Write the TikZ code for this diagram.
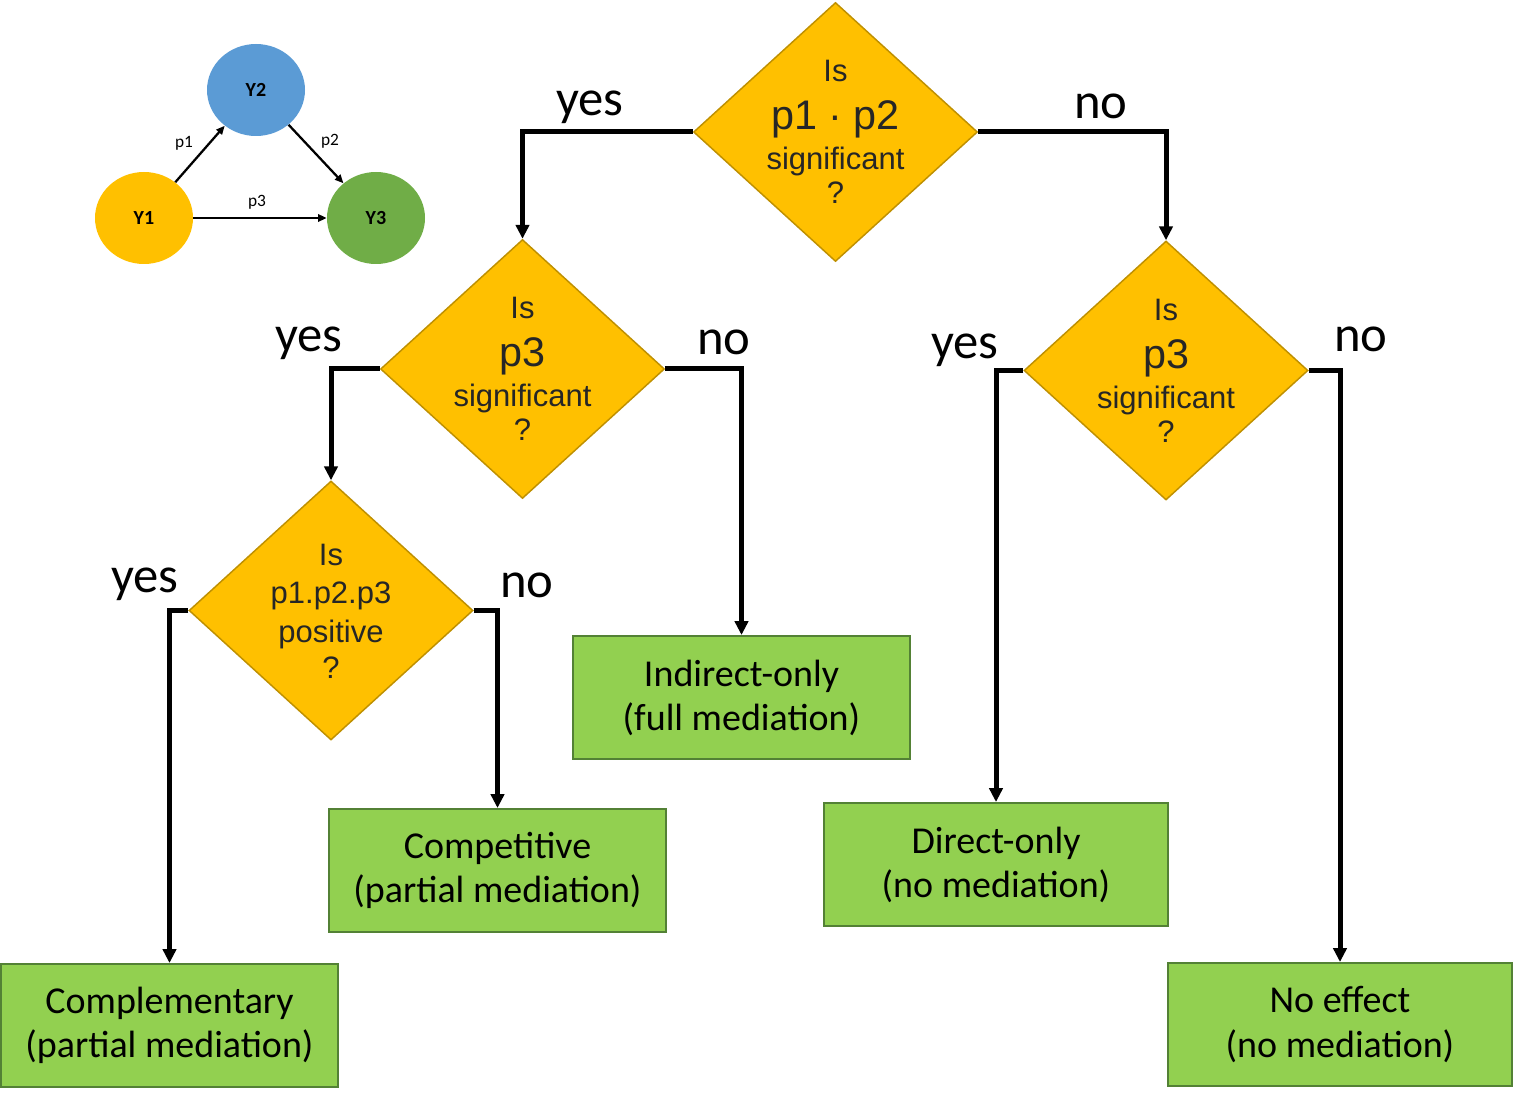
\documentclass[tikz,border=0pt]{standalone}
\usepackage{fontspec}
\setmainfont{Carlito}
\newfontfamily\arialf{Liberation Sans}
\usetikzlibrary{shapes.geometric,arrows.meta}
\definecolor{dfill}{HTML}{FFC000}
\definecolor{ddraw}{HTML}{BF9000}
\definecolor{bfill}{HTML}{92D050}
\definecolor{bdraw}{HTML}{538135}
\definecolor{dtext}{HTML}{262626}
\definecolor{ycol}{HTML}{FFC000}
\definecolor{bcol}{HTML}{5B9BD5}
\definecolor{gcol}{HTML}{70AD47}
\begin{document}
\begin{tikzpicture}[x=0.75pt,y=-0.75pt,
  decision/.style={diamond,draw=ddraw,fill=dfill,line width=1.1pt,inner sep=0pt,
    minimum width={284*0.75pt},minimum height={259*0.75pt}},
  dtxt/.style={align=center,text=dtext,inner sep=0pt,font=\arialf\fontsize{23.25}{27}\selectfont},
  outcome/.style={rectangle,draw=bdraw,fill=bfill,line width=1.5pt,
    minimum height={123*0.75pt},align=center,font=\fontsize{28.5}{33}\selectfont},
  flow/.style={line width=3.75pt,-{Triangle[length=10.5pt,width=10pt]}},
  lbl/.style={font=\fontsize{38}{40}\selectfont,inner sep=0pt},
  circ/.style={ellipse,minimum width={98*0.75pt},minimum height={92*0.75pt},inner sep=0pt,
    font=\bfseries\fontsize{15}{17}\selectfont},
  path/.style={line width=1.7pt,-{Triangle[length=6.5pt,width=5.5pt]}},
  plbl/.style={font=\fontsize{13}{14}\selectfont,inner sep=0pt}]
\useasboundingbox (0,0) rectangle (1513,1094);
% small model
\node[circ,fill=ycol] (y1) at (144,218) {Y1};
\node[circ,fill=bcol] (y2) at (256,90) {Y2};
\node[circ,fill=gcol] (y3) at (376,218) {Y3};
\draw[path] (y1) -- (y2);
\draw[path] (y2) -- (y3);
\draw[path] (y1) -- (y3);
\node[plbl] (lp1) at (184,143) {p1};
\node[plbl] (lp2) at (330,141) {p2};
\node[plbl] (lp3) at (257,202) {p3};
% decisions
\node[decision] (d1) at (835.5,132) {};
\node[dtxt] (t1) at (835.5,132) {Is\\[9pt]{\fontsize{31}{36}\selectfont p1 · p2}\\[3pt]significant\\[-1pt]?};
\node[decision] (d2) at (522.5,369) {};
\node[dtxt] (t2) at (522.5,369) {Is\\[9pt]{\fontsize{31}{36}\selectfont p3}\\[3pt]significant\\[-1pt]?};
\node[decision] (d3) at (1166,370.5) {};
\node[dtxt] (t3) at (1166,371) {Is\\[9pt]{\fontsize{31}{36}\selectfont p3}\\[3pt]significant\\[-1pt]?};
\node[decision] (d4) at (331,610.5) {};
\node[dtxt] (t4) at (331,611) {Is\\[2pt]p1.p2.p3\\[2pt]positive\\[0pt]?};
% outcomes
\node[outcome,minimum width={337*0.75pt}] (o1) at (741.5,697.5) {Indirect-only\\(full mediation)};
\node[outcome,minimum width={337*0.75pt}] (o2) at (497.5,870.5) {Competitive\\(partial mediation)};
\node[outcome,minimum width={337*0.75pt}] (o3) at (169.5,1025.5) {Complementary\\(partial mediation)};
\node[outcome,minimum width={344*0.75pt}] (o4) at (996,864.5) {Direct-only\\(no mediation)};
\node[outcome,minimum width={344*0.75pt}] (o5) at (1340,1024.5) {No effect\\(no mediation)};
% connectors
\draw[flow] (d1.west) -| (d2.north);
\draw[flow] (d1.east) -| (d3.north);
\draw[flow] (d2.west) -| (d4.north);
\draw[flow] (d2.east) -| (o1.north);
\draw[flow] (d4.west) -| (o3.north);
\draw[flow] (d4.east) -| (o2.north);
\draw[flow] (d3.west) -| (o4.north);
\draw[flow] (d3.east) -| (o5.north);
% labels
\node[lbl] (l1) at (590,107) {yes};
\node[lbl] (l2) at (1101,106) {no};
\node[lbl] (l3) at (309,343) {yes};
\node[lbl] (l4) at (724,342) {no};
\node[lbl] (l5) at (145,584) {yes};
\node[lbl] (l6) at (527,585) {no};
\node[lbl] (l7) at (965,350) {yes};
\node[lbl] (l8) at (1361,339) {no};
\end{tikzpicture}
\end{document}
